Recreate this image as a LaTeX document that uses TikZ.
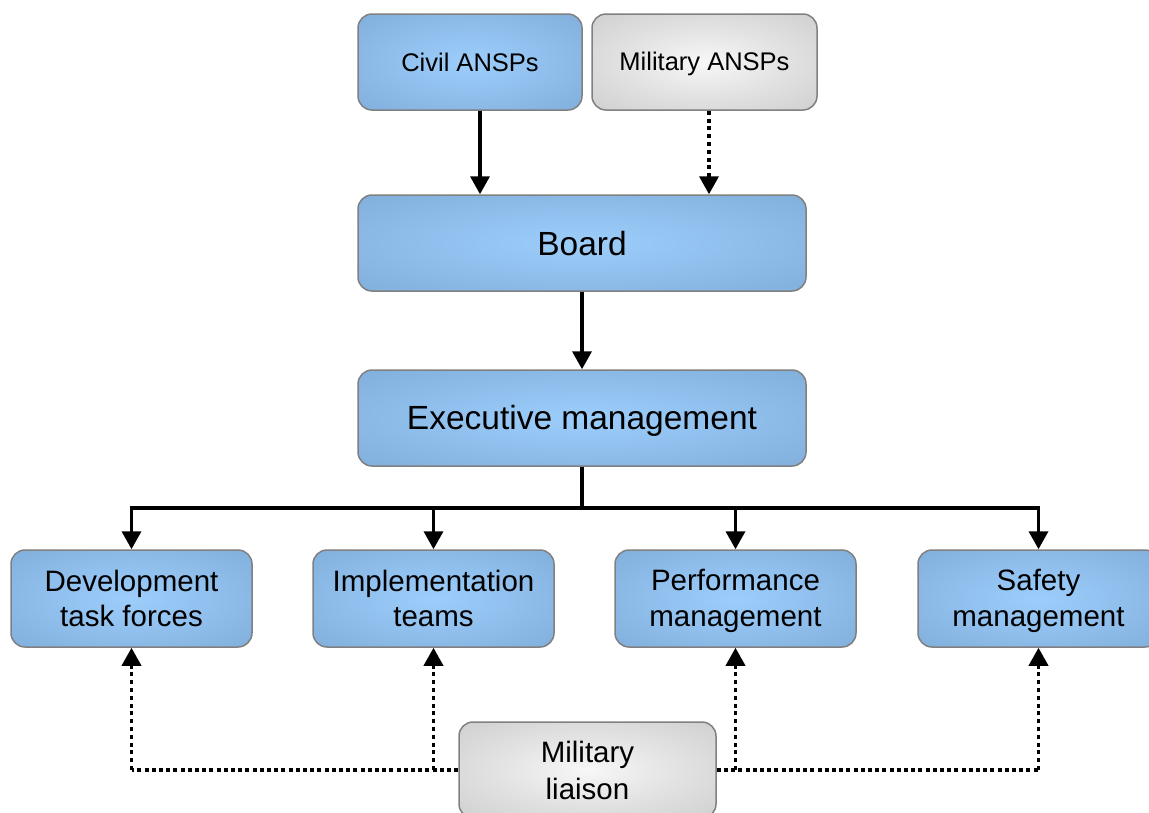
\documentclass[tikz,border=0pt]{standalone}
\usepackage{fontspec}
\setmainfont{Liberation Sans}
\usetikzlibrary{arrows.meta}
\definecolor{bluein}{HTML}{9CCDFB}
\definecolor{blueout}{HTML}{80ADDA}
\definecolor{grayin}{HTML}{F7F7F7}
\definecolor{grayout}{HTML}{CDCDCD}
\definecolor{edge}{HTML}{808080}
\newcommand\cst{\rule[-0.18em]{0pt}{1.08em}}
\pgfdeclareradialshading{blueglow}{\pgfpoint{0bp}{0bp}}{color(0bp)=(bluein); color(18bp)=(bluein!55!blueout); color(38bp)=(blueout); color(50bp)=(blueout)}
\pgfdeclareradialshading{grayglow}{\pgfpoint{0bp}{0bp}}{color(0bp)=(grayin); color(18bp)=(grayin!50!grayout); color(38bp)=(grayout); color(50bp)=(grayout)}
\tikzset{
  box/.style={draw=edge, line width=1.5pt, rounded corners=14pt, align=center, inner sep=0pt, text=black},
  bluebox/.style={box, shading=blueglow},
  graybox/.style={box, shading=grayglow},
  small/.style={font=\fontsize{25.5}{30}\selectfont},
  big/.style={font=\fontsize{33.5}{40}\selectfont},
  mid/.style={font=\fontsize{29.5}{35.5}\selectfont},
  line/.style={line width=3.6pt, draw=black},
  arr/.style={line, -{Triangle[width=19pt,length=18pt]}},
  dotv/.style={line, dash pattern=on 4pt off 3.8pt, -{Triangle[width=19pt,length=18pt]}},
  doth/.style={line, dash pattern=on 4pt off 3.2pt},
}
\begin{document}
\begin{tikzpicture}[x=1pt,y=-1pt]
\useasboundingbox (0,0) rectangle (1149,812);
\node[bluebox, small, minimum width=224pt, minimum height=96pt] (civ) at (470,62) {Civil ANSPs\cst};
\node[graybox, small, minimum width=225pt, minimum height=96pt] (mil) at (704.5,62) {Military ANSPs\cst};
\node[bluebox, big, minimum width=448pt, minimum height=96pt] (board) at (582,243) {Board\cst};
\node[bluebox, big, minimum width=448pt, minimum height=96pt] (exec) at (582,418) {Executive management\cst};
\node[bluebox, mid, minimum width=241pt, minimum height=97pt] (dev) at (131.5,598.5) {Development\cst\\task forces\cst};
\node[bluebox, mid, minimum width=241pt, minimum height=97pt] (imp) at (433.5,598.5) {Implementation\cst\\teams\cst};
\node[bluebox, mid, minimum width=241pt, minimum height=97pt] (perf) at (735.5,598.5) {Performance\cst\\management\cst};
\node[bluebox, mid, minimum width=241pt, minimum height=97pt] (saf) at (1038.5,598.5) {Safety\cst\\management\cst};
\node[graybox, mid, minimum width=257pt, minimum height=96pt, font=\fontsize{29.5}{37}\selectfont] (lia) at (587.5,770) {Military\cst\\liaison\cst};
\coordinate (ca) at (480,0);
\coordinate (ma) at (709,0);
\coordinate (bus) at (582,508);
\draw[arr] (civ.south -| ca) -- (board.north -| ca);
\draw[dotv] (mil.south -| ma) -- (board.north -| ma);
\draw[arr] (board.south) -- (exec.north);
\draw[line] (exec.south) -- (bus);
\draw[line] ([xshift=-1.8pt]dev.north |- bus) -- ([xshift=1.8pt]saf.north |- bus);
\draw[arr] ([yshift=-1.8pt]dev.north |- bus) -- (dev.north);
\draw[arr] (imp.north |- bus) -- (imp.north);
\draw[arr] (perf.north |- bus) -- (perf.north);
\draw[arr] ([yshift=-1.8pt]saf.north |- bus) -- (saf.north);
\draw[doth] (lia.west) -- (dev.south |- lia.west);
\draw[doth] (lia.east) -- (saf.south |- lia.east);
\draw[dotv] (dev.south |- lia.west) -- (dev.south);
\draw[dotv] (imp.south |- lia.west) -- (imp.south);
\draw[dotv] (perf.south |- lia.east) -- (perf.south);
\draw[dotv] (saf.south |- lia.east) -- (saf.south);
\end{tikzpicture}
\end{document}
